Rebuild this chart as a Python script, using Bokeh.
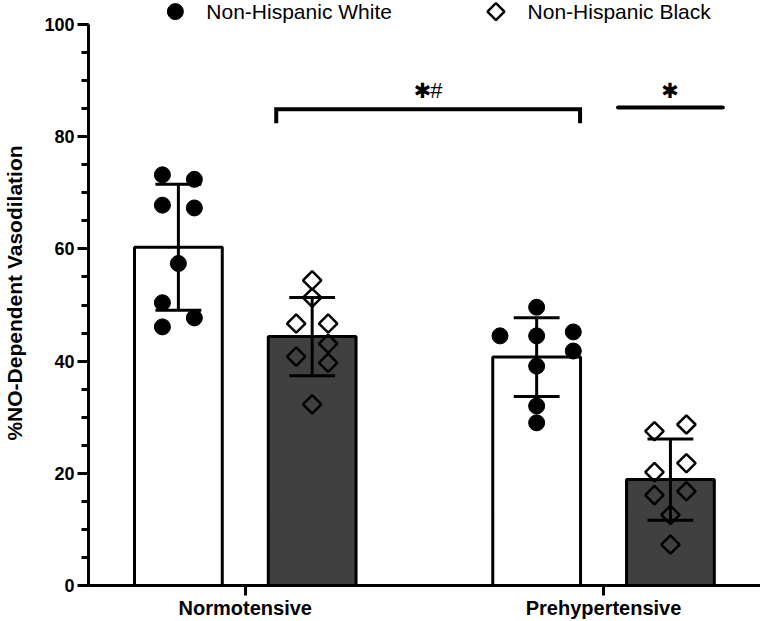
import numpy as np
from bokeh.plotting import figure
from bokeh.models import Range1d, SingleIntervalTicker, FixedTicker
from bokeh.core.properties import value
from bokeh.embed import file_html
from bokeh.resources import INLINE

# ---------------- data ----------------
categories = ["Normotensive", "Prehypertensive"]
groups = ["Non-Hispanic White", "Non-Hispanic Black"]
y_title = "%NO-Dependent Vasodilation"

normo_white = [73.2, 72.4, 67.8, 67.3, 57.4, 50.4, 47.7, 46.1]
normo_black = [54.4, 51.3, 46.7, 46.7, 43.1, 40.8, 39.7, 32.3]
prehyp_white = [49.6, 44.5, 44.5, 45.2, 41.8, 39.1, 32.0, 29.0]
prehyp_black = [27.5, 28.7, 21.8, 20.2, 16.1, 16.8, 12.6, 7.3]

y_tick_interval = 20
sig_main = "\u2731"
sig_extra = "#"

# ---------------- layout / style ----------------
# horizontal lane of each point inside its bar (scatter spreading)
lanes_nw = [-1, 1, -1, 1, 0, -1, 1, -1]
lanes_nb = [0, 0, -1, 1, 1, -1, 1, 0]
lanes_pw = [0, -1, 0, 1, 1, 0, 0, 0]
lanes_pb = [-1, 1, 1, -1, -1, 1, 0, 0]
PX = 1 / 358.8            # one screen pixel in x units
spread = [16 * PX, 16 * PX, 36.7 * PX, 16 * PX]

BAR_OFF = 0.1867
BAR_W = 0.245
CAP_W = 0.128
DARK = "#404040"
FONT = "Liberation Sans"

W, H = 760, 621
X0 = 0.5624
p = figure(width=W, height=H, output_backend="svg", toolbar_location=None,
           x_range=Range1d(X0, 2.4381), y_range=Range1d(0, 104.28),
           min_border=0, min_border_left=87)
p.grid.visible = False
p.outline_line_color = None
p.background_fill_color = "white"
p.border_fill_color = "white"

# y axis
ya = p.yaxis[0]
ya.ticker = SingleIntervalTicker(interval=y_tick_interval, num_minor_ticks=4)
ya.bounds = (0, 100)
ya.axis_line_width = 3
ya.major_tick_line_width = 3
ya.minor_tick_line_width = 3
ya.major_tick_out = 11
ya.major_tick_in = 0
ya.minor_tick_out = 7
ya.minor_tick_in = 0
ya.major_label_text_font = FONT
ya.major_label_text_font_size = "18px"
ya.major_label_text_font_style = "bold"
ya.major_label_text_color = "black"
ya.major_label_standoff = 3
ya.axis_label = y_title
ya.axis_label_text_font = FONT
ya.axis_label_text_font_size = "21px"
ya.axis_label_text_font_style = "bold"
ya.axis_label_text_color = "black"
ya.axis_label_standoff = 15

# x axis
xa = p.xaxis[0]
xa.ticker = FixedTicker(ticks=[1, 2], minor_ticks=[])
xa.major_label_overrides = {1: categories[0], 2: categories[1]}
xa.axis_line_width = 3
xa.major_tick_line_width = 3
xa.major_tick_out = 10
xa.major_tick_in = 0
xa.minor_tick_out = 0
xa.minor_tick_in = 0
xa.major_label_text_font = FONT
xa.major_label_text_font_size = "20px"
xa.major_label_text_font_style = "bold"
xa.major_label_text_color = "black"
xa.major_label_standoff = 1

# ---------------- bars ----------------
series = [normo_white, normo_black, prehyp_white, prehyp_black]
lanes = [lanes_nw, lanes_nb, lanes_pw, lanes_pb]
centers = [1 - BAR_OFF, 1 + BAR_OFF, 2 - BAR_OFF, 2 + BAR_OFF]
means = [float(np.mean(s)) for s in series]
sds = [float(np.std(s, ddof=1)) for s in series]
fills = ["white", DARK, "white", DARK]

p.vbar(x=centers, top=means, bottom=0, width=BAR_W, fill_color=fills,
       line_color="black", line_width=3)

# error bars (mean +/- SD)
lo = [m - s for m, s in zip(means, sds)]
hi = [m + s for m, s in zip(means, sds)]
p.segment(x0=centers, y0=lo, x1=centers, y1=hi, line_color="black", line_width=3)
p.segment(x0=[c - CAP_W / 2 for c in centers], y0=hi,
          x1=[c + CAP_W / 2 for c in centers], y1=hi, line_color="black", line_width=3)
p.segment(x0=[c - CAP_W / 2 for c in centers], y0=lo,
          x1=[c + CAP_W / 2 for c in centers], y1=lo, line_color="black", line_width=3)

# individual points
for i, (vals, ln) in enumerate(zip(series, lanes)):
    xs = [centers[i] + l * spread[i] for l in ln]
    if i % 2 == 0:
        p.scatter(x=xs, y=vals, marker="circle", size=16,
                  fill_color="black", line_color="black")
    else:
        p.scatter(x=xs, y=vals, marker="square", angle=np.pi / 4, size=13,
                  fill_color=None, line_color="black", line_width=2.5)

# ---------------- legend ----------------
leg_y = 102.3
p.scatter(x=[0.8049], y=[leg_y], marker="circle", size=16,
          fill_color="black", line_color="black")
p.scatter(x=[1.6996], y=[leg_y], marker="square", angle=np.pi / 4, size=12,
          fill_color=None, line_color="black", line_width=2.5)
p.text(x=[0.8913, 1.7879], y=[leg_y, leg_y], text=groups,
       text_font=value(FONT), text_font_size="21px", text_color="black",
       text_baseline="middle", text_align="left")

# ---------------- significance ----------------
br_y, br_drop = 84.9, 82.4
sig_y = 88.2
p.line(x=[1.0864, 1.0864, 1.9345, 1.9345], y=[br_drop, br_y, br_y, br_drop],
       line_color="black", line_width=4, line_join="miter")
p.segment(x0=[2.0404], y0=[br_y + 0.3], x1=[2.3331], y1=[br_y + 0.3],
          line_color="black", line_width=4, line_cap="round")
p.text(x=[1.4947, 2.1853], y=[sig_y, sig_y], text=[sig_main, sig_main],
       text_font=value("DejaVu Sans"), text_font_size="21px",
       text_color="black", text_align="center", text_baseline="middle")
p.text(x=[1.5337], y=[sig_y], text=[sig_extra],
       text_font=value(FONT), text_font_size="22px",
       text_color="black", text_align="center", text_baseline="middle")

open("out.html", "w").write(file_html(p, INLINE))
